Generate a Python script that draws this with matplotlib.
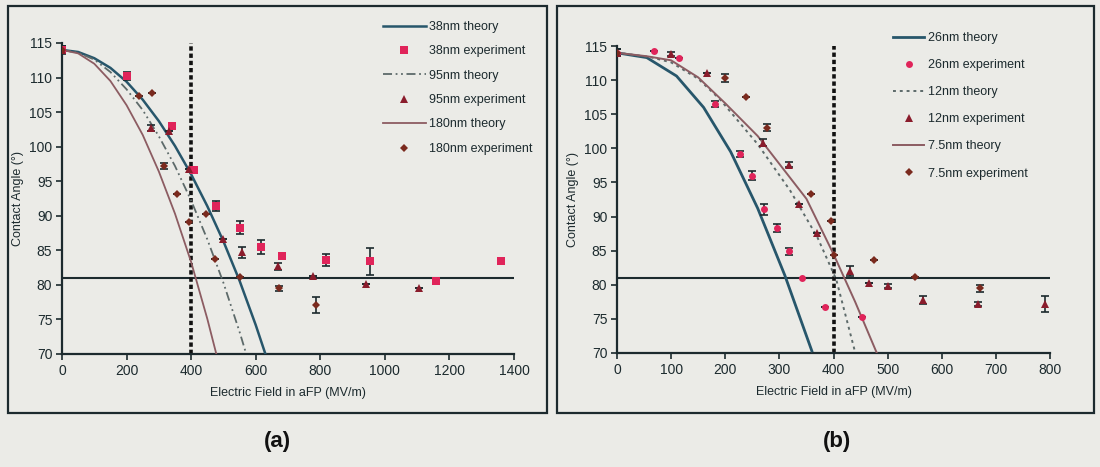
import matplotlib
matplotlib.use("Agg")
import matplotlib.pyplot as plt
from matplotlib.patches import Rectangle

plt.rcParams['font.family'] = ['Liberation Sans', 'DejaVu Sans']

# ---------------- panel (a) ----------------
a_t38_x = [0, 50, 100, 150, 200, 250, 300, 350, 400, 450, 500, 550, 600, 630]
a_t38_y = [114, 113.7, 112.8, 111.4, 109.4, 106.8, 103.7, 100.1, 96.0, 91.4, 86.3, 80.6, 74.2, 70.0]
a_t95_x = [0, 50, 100, 150, 200, 250, 300, 350, 400, 450, 500, 550, 570]
a_t95_y = [114, 113.6, 112.6, 110.8, 108.3, 105.3, 101.5, 97.2, 92.2, 86.6, 80.3, 73.2, 70.1]
a_t180_x = [0, 50, 100, 150, 200, 250, 300, 350, 400, 450, 478]
a_t180_y = [114, 113.5, 112.0, 109.5, 106.0, 101.7, 96.4, 90.3, 83.3, 75.1, 70.0]

a_e38_x = [0, 200, 341, 410, 477, 550, 615, 681, 818, 955, 1158, 1361]
a_e38_y = [114, 110.2, 103.0, 96.6, 91.4, 88.3, 85.5, 84.2, 83.6, 83.4, 80.6, 83.4]
a_e38_err = [0.6, 0.6, 0, 0, 0.7, 1.0, 1.0, 0, 0.8, 2.0, 0.4, 0]

a_e95_x = [0, 277, 332, 392, 500, 559, 669, 777, 942, 1107]
a_e95_y = [114, 102.7, 102.3, 96.8, 86.7, 84.7, 82.7, 81.3, 80.1, 79.6]
a_e95_err = [0.5, 0.5, 0, 0, 0, 0.8, 0.5, 0, 0, 0]

a_e180_x = [0, 240, 280, 317, 356, 392, 447, 474, 550, 671, 788]
a_e180_y = [114, 107.4, 107.8, 97.2, 93.2, 89.1, 90.3, 83.7, 81.1, 79.5, 77.1]
a_e180_err = [0.5, 0, 0, 0.5, 0, 0, 0, 0, 0, 0.4, 1.1]

# ---------------- panel (b) ----------------
b_t26_x = [0, 55, 110, 160, 210, 260, 310, 360]
b_t26_y = [114, 113.3, 110.6, 106.0, 99.5, 91.2, 81.4, 70.3]
b_t12_x = [0, 60, 100, 150, 190, 260, 320, 370, 405, 440]
b_t12_y = [114, 113.4, 112.6, 110.2, 107.2, 100.6, 93.8, 87.0, 80.8, 70.1]
b_t75_x = [0, 55, 100, 150, 200, 260, 350, 400, 440, 480]
b_t75_y = [114, 113.5, 112.9, 110.4, 106.6, 101.8, 92.6, 84.5, 77.5, 70.0]

b_e26_x = [0, 69, 114, 181, 228, 250, 271, 295, 317, 341, 384, 452]
b_e26_y = [114, 114.3, 113.3, 106.5, 99.2, 96.0, 91.1, 88.3, 84.9, 81.0, 76.8, 75.3]
b_e26_err = [0.5, 0, 0, 0.4, 0.4, 0.7, 0.8, 0.6, 0.5, 0, 0, 0]

b_e12_x = [0, 100, 167, 269, 317, 336, 369, 431, 466, 500, 566, 667, 791]
b_e12_y = [114, 113.8, 111.1, 100.8, 97.6, 91.9, 87.6, 82.0, 80.2, 79.8, 77.8, 77.2, 77.2]
b_e12_err = [0.5, 0.3, 0, 0.5, 0.4, 0, 0, 0.7, 0, 0.3, 0.6, 0.3, 1.2]

b_e75_x = [0, 200, 239, 278, 358, 396, 401, 475, 550, 670]
b_e75_y = [114, 110.3, 107.5, 103.0, 93.3, 89.4, 84.3, 83.7, 81.1, 79.5]
b_e75_err = [0.5, 0.6, 0, 0.5, 0, 0, 0, 0, 0, 0.5]

threshold_angle = 81
field_marker = 400
y_ticks = [70, 75, 80, 85, 90, 95, 100, 105, 110, 115]
a_x_ticks = [0, 200, 400, 600, 800, 1000, 1200, 1400]
b_x_ticks = [0, 100, 200, 300, 400, 500, 600, 700, 800]

BG = '#ebebe7'
INK = '#1c2a2e'
C_BLUE = '#27566b'
C_GREY = '#5d6a6a'
C_MAUVE = '#8c5c62'
C_RED = '#e0245a'
C_TRI = '#8a1c2c'
C_DIA = '#7a2a1e'

W, H = 1100, 467
fig = plt.figure(figsize=(W / 100, H / 100), dpi=100, facecolor=BG)


def fx(px):
    return px / W


def fy(py):
    return 1 - py / H


# panel frames
for x0, x1 in [(8, 547), (557, 1094)]:
    fig.patches.append(Rectangle((fx(x0), fy(413)), fx(x1 - x0), (413 - 6) / H,
                                 transform=fig.transFigure, fill=False,
                                 edgecolor=INK, linewidth=1.6, zorder=0))


def panel(rect, xmax, xticks, theory, exps, labels, leg_anchor, leg_spacing, leg_hl):
    ax = fig.add_axes(rect)
    ax.set_facecolor('none')
    ax.set_xlim(0, xmax)
    ax.set_ylim(70, 115)
    for s in ['top', 'right']:
        ax.spines[s].set_visible(False)
    for s in ['left', 'bottom']:
        ax.spines[s].set_color(INK)
        ax.spines[s].set_linewidth(1.6)
    ax.set_xticks(xticks)
    ax.set_yticks(y_ticks)
    ax.tick_params(axis='both', colors=INK, labelsize=10, length=4, width=1.2,
                   direction='out')
    ax.tick_params(axis='y', pad=3)
    ax.set_xlabel('Electric Field in aFP (MV/m)', fontsize=9, color=INK, labelpad=6)
    ax.set_ylabel('Contact Angle (°)', fontsize=9, color=INK, labelpad=4)

    ax.plot([0, xmax], [threshold_angle, threshold_angle], color=INK, lw=1.5, zorder=2)
    ax.plot([field_marker, field_marker], [70, 115], color='#111111', lw=2.6,
            linestyle=(0, (1.2, 0.8)), zorder=2)

    handles = []
    for (x, y, color, ls, lw), (ex, ey, eerr, mk, mc, ms), lab in zip(theory, exps, labels):
        h1, = ax.plot(x, y, color=color, linestyle=ls, lw=lw, zorder=3)
        ax.errorbar(ex, ey, yerr=eerr, fmt='none', ecolor=INK, elinewidth=1.2,
                    capsize=3, capthick=1.2, zorder=4)
        h2, = ax.plot(ex, ey, linestyle='none', marker=mk, color=mc, markersize=ms,
                      markeredgewidth=0, zorder=5)
        handles += [h1, h2]
    leg = fig.legend(handles, [l for pair in labels for l in pair],
                     loc='upper left', bbox_to_anchor=leg_anchor,
                     frameon=False, fontsize=9, labelspacing=leg_spacing,
                     handlelength=leg_hl, handletextpad=0.3, borderpad=0,
                     borderaxespad=0)
    for t in leg.get_texts():
        t.set_color(INK)
    return ax


panel([fx(62), fy(354), fx(452), (354 - 43) / H], 1400, a_x_ticks,
      [(a_t38_x, a_t38_y, C_BLUE, '-', 1.8),
       (a_t95_x, a_t95_y, C_GREY, (0, (5, 2, 1, 2, 1, 2)), 1.3),
       (a_t180_x, a_t180_y, C_MAUVE, '-', 1.3)],
      [(a_e38_x, a_e38_y, a_e38_err, 's', C_RED, 5.5),
       (a_e95_x, a_e95_y, a_e95_err, '^', C_TRI, 5.5),
       (a_e180_x, a_e180_y, a_e180_err, 'D', C_DIA, 4)],
      [('38nm theory', '38nm experiment'), ('95nm theory', '95nm experiment'),
       ('180nm theory', '180nm experiment')],
      (fx(383), fy(21)), 0.99, 3.4)

panel([fx(617), fy(353), fx(433), (353 - 46) / H], 800, b_x_ticks,
      [(b_t26_x, b_t26_y, C_BLUE, '-', 2.0),
       (b_t12_x, b_t12_y, C_GREY, (0, (1.5, 2)), 1.4),
       (b_t75_x, b_t75_y, C_MAUVE, '-', 1.4)],
      [(b_e26_x, b_e26_y, b_e26_err, 'o', C_RED, 5),
       (b_e12_x, b_e12_y, b_e12_err, '^', C_TRI, 5.5),
       (b_e75_x, b_e75_y, b_e75_err, 'D', C_DIA, 4)],
      [('26nm theory', '26nm experiment'), ('12nm theory', '12nm experiment'),
       ('7.5nm theory', '7.5nm experiment')],
      (fx(893), fy(32)), 1.21, 2.5)

fig.text(fx(277), fy(441), '(a)', fontsize=16, fontweight='bold', color='#111111',
         ha='center', va='center')
fig.text(fx(837), fy(441), '(b)', fontsize=16, fontweight='bold', color='#111111',
         ha='center', va='center')

fig.savefig('out.png', dpi=100, facecolor=BG)
